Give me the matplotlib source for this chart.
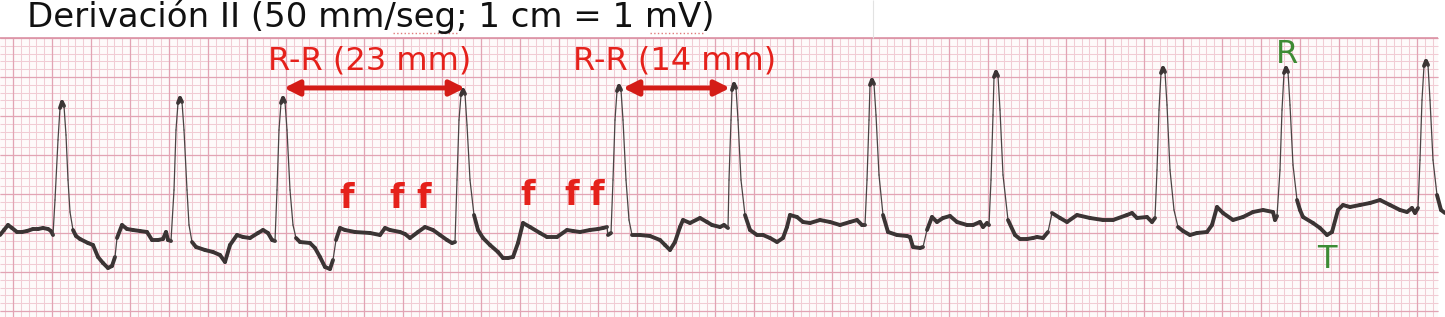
import numpy as np
import matplotlib
matplotlib.use('Agg')
import matplotlib.pyplot as plt
from matplotlib.collections import LineCollection
from matplotlib.patches import Rectangle

trace_x = [
    0, 4, 8, 12, 17, 22, 27, 33, 38, 43, 48, 51, 53,
    55, 58, 60, 62, 64, 66, 68, 70, 73,
    76, 80, 88, 93, 98, 103, 108, 112, 115, 117, 122, 127, 133, 140, 147, 152, 158, 163, 166, 168, 171,
    174, 176, 178, 180, 182, 184, 187, 189, 192, 196,
    205, 213, 220, 225, 230, 237, 243, 250, 258, 263, 268, 272, 275,
    277, 279, 281, 283, 285, 287, 290, 293, 296,
    300, 310, 315, 320, 325, 330, 333, 336, 340, 345, 355, 370, 380, 385, 390, 400, 405, 410, 418, 425, 433, 440, 447, 452, 455,
    457, 459, 461, 463, 465, 467, 470, 474, 478,
    483, 490, 498, 503, 508, 513, 518, 523, 530, 540, 547, 557, 567, 573, 580, 590, 598, 603, 607, 608, 611,
    613, 615, 617, 619, 621, 623, 626, 629, 632,
    640, 650, 660, 665, 670, 675, 680, 683, 690, 700, 707, 712, 720, 724, 728,
    729, 731, 732, 734, 736, 738, 741, 745, 750,
    757, 763, 770, 777, 783, 787, 790, 797, 803, 810, 820, 830, 840, 850, 857, 862, 865,
    867, 869, 870, 872, 874, 876, 879, 883, 888,
    897, 907, 910, 913, 920, 923, 927, 932, 937, 943, 950, 957, 967, 973, 980, 983, 987, 989,
    991, 993, 994, 996, 998, 1000, 1003, 1008, 1015,
    1020, 1027, 1033, 1037, 1043, 1048, 1052, 1060, 1067, 1077, 1090, 1103, 1113, 1127, 1132, 1137, 1147, 1152, 1155,
    1157, 1159, 1161, 1163, 1165, 1167, 1170, 1174, 1178,
    1183, 1190, 1197, 1207, 1212, 1217, 1223, 1233, 1243, 1253, 1263, 1273, 1275, 1277,
    1280, 1282, 1284, 1286, 1288, 1290, 1293, 1297, 1300,
    1303, 1313, 1320, 1327, 1332, 1338, 1343, 1350, 1360, 1370, 1380, 1390, 1400, 1407, 1412, 1415, 1418,
    1420, 1422, 1424, 1426, 1428, 1430, 1433, 1437, 1441, 1445,
]
trace_y = [
    235, 230, 225, 228, 232, 232, 231, 229, 229, 228, 229, 231, 235,
    200, 140, 108, 102, 106, 135, 180, 212, 230,
    236, 239, 243, 245, 257, 263, 268, 266, 257, 238, 225, 229, 230, 231, 232, 240, 240, 239, 232, 240, 241,
    190, 130, 103, 98, 102, 130, 190, 225, 242, 247,
    250, 252, 255, 262, 245, 235, 237, 238, 233, 230, 233, 240, 241,
    190, 130, 103, 98, 102, 130, 190, 225, 238,
    242, 243, 248, 257, 267, 269, 260, 240, 228, 230, 232, 233, 235, 228, 230, 232, 234, 238, 232, 227, 230, 235, 240, 243, 242,
    180, 120, 95, 90, 94, 125, 180, 215, 230,
    238, 245, 252, 258, 258, 257, 243, 223, 227, 233, 237, 237, 230, 231, 232, 230, 229, 228, 227, 235, 233,
    180, 120, 91, 86, 90, 120, 180, 220, 235,
    235, 236, 240, 245, 250, 242, 227, 220, 223, 218, 222, 225, 227, 225, 228,
    180, 120, 90, 84, 88, 120, 180, 215, 230,
    235, 235, 238, 242, 238, 227, 215, 217, 222, 223, 220, 222, 225, 222, 220, 225, 225,
    180, 120, 85, 80, 84, 115, 175, 215, 232,
    235, 236, 237, 247, 248, 247, 230, 217, 222, 218, 216, 222, 225, 225, 222, 227, 223, 225,
    180, 115, 77, 72, 76, 110, 175, 220, 235,
    239, 239, 238, 237, 238, 232, 213, 218, 222, 215, 218, 220, 220, 215, 213, 218, 217, 222, 218,
    170, 110, 73, 68, 72, 105, 170, 210, 227,
    231, 235, 233, 232, 225, 207, 213, 220, 217, 212, 210, 212, 220, 216,
    170, 110, 73, 68, 72, 105, 165, 200, 210,
    217, 223, 228, 235, 232, 210, 205, 207, 205, 203, 200, 205, 210, 212, 208, 213, 208,
    160, 100, 66, 61, 65, 100, 160, 195, 210, 213,
]

title = 'Derivación II (50 mm/seg; 1 cm = 1 mV)'
rr_labels = ['R-R (23 mm)', 'R-R (14 mm)']
rr_label_x = [370, 675]
rr_arrow_start = [284, 623]
rr_arrow_end = [465, 730]
f_x = [347, 397, 424, 528, 572, 597]
f_y = [208, 208, 208, 205, 205, 205]
wave_labels = ['R', 'T']
wave_x = [1287, 1327]
wave_y = [63, 268]

red = '#e5211b'
green = '#3d8b34'

fig = plt.figure(figsize=(14.45, 3.17), dpi=100)
ax = fig.add_axes([0, 0, 1, 1])
ax.set_xlim(0, 1445)
ax.set_ylim(317, 0)
ax.axis('off')

# ECG paper
paper_top, paper_right = 38, 1438
ax.add_patch(Rectangle((0, paper_top), paper_right, 317 - paper_top,
                       fc='#fefafa', ec='none', zorder=0))
minor_x = np.arange(5.2, paper_right, 7.8)
major_x = np.arange(13, paper_right, 39)
minor_y = np.arange(paper_top, 317, 7.8)
major_y = np.arange(paper_top, 317, 39)
ax.vlines(minor_x, paper_top, 317, color='#f1ccd4', lw=0.75, zorder=1)
ax.hlines(minor_y, 0, paper_right, color='#f1ccd4', lw=0.75, zorder=1)
ax.vlines(major_x, paper_top, 317, color='#e2a4b4', lw=0.9, zorder=1)
ax.hlines(major_y, 0, paper_right, color='#e2a4b4', lw=0.9, zorder=1)
ax.hlines([paper_top], 0, paper_right, color='#dc94a6', lw=1.2, zorder=1)
ax.vlines([873], 0, paper_top, color='#e2e2e2', lw=0.8, zorder=1)

# trace: thin on the fast R strokes, thick on the slow parts
pts = np.column_stack([trace_x, trace_y])
segs = np.stack([pts[:-1], pts[1:]], axis=1)
dx = np.abs(np.diff(trace_x)).astype(float)
dy = np.abs(np.diff(trace_y)).astype(float)
steep = dy > 4 * np.maximum(dx, 0.1)
widths = np.where(steep, 0.9, 2.8)
colors = np.where(steep, '#4a4444', '#3b3434')
lc = LineCollection(segs, linewidths=widths, colors=colors,
                    capstyle='round', joinstyle='round', zorder=3)
ax.add_collection(lc)

# labels
ax.text(27, 27, title, fontsize=24.5, color='#111111', ha='left', va='baseline')
ax.plot([393, 457], [33, 33], color='#e07a7a', lw=1, ls=':')
ax.plot([650, 703], [33, 33], color='#e07a7a', lw=1, ls=':')

for lab, x, x0, x1 in zip(rr_labels, rr_label_x, rr_arrow_start, rr_arrow_end):
    ax.text(x, 70, lab, fontsize=23, color=red, ha='center', va='baseline', zorder=4)
    ax.annotate('', xy=(x1, 88), xytext=(x0, 88),
                arrowprops=dict(arrowstyle='<|-|>,head_length=0.9,head_width=0.45',
                                lw=3.5, color='#d41c17', shrinkA=0, shrinkB=0),
                zorder=4)

for x, y in zip(f_x, f_y):
    ax.text(x, y, 'f', fontsize=24, fontweight='bold', color=red,
            ha='center', va='baseline', zorder=4)

for lab, x, y in zip(wave_labels, wave_x, wave_y):
    ax.text(x, y, lab, fontsize=23, color=green, ha='center', va='baseline', zorder=4)

fig.savefig('out.png', dpi=100, facecolor='white')
